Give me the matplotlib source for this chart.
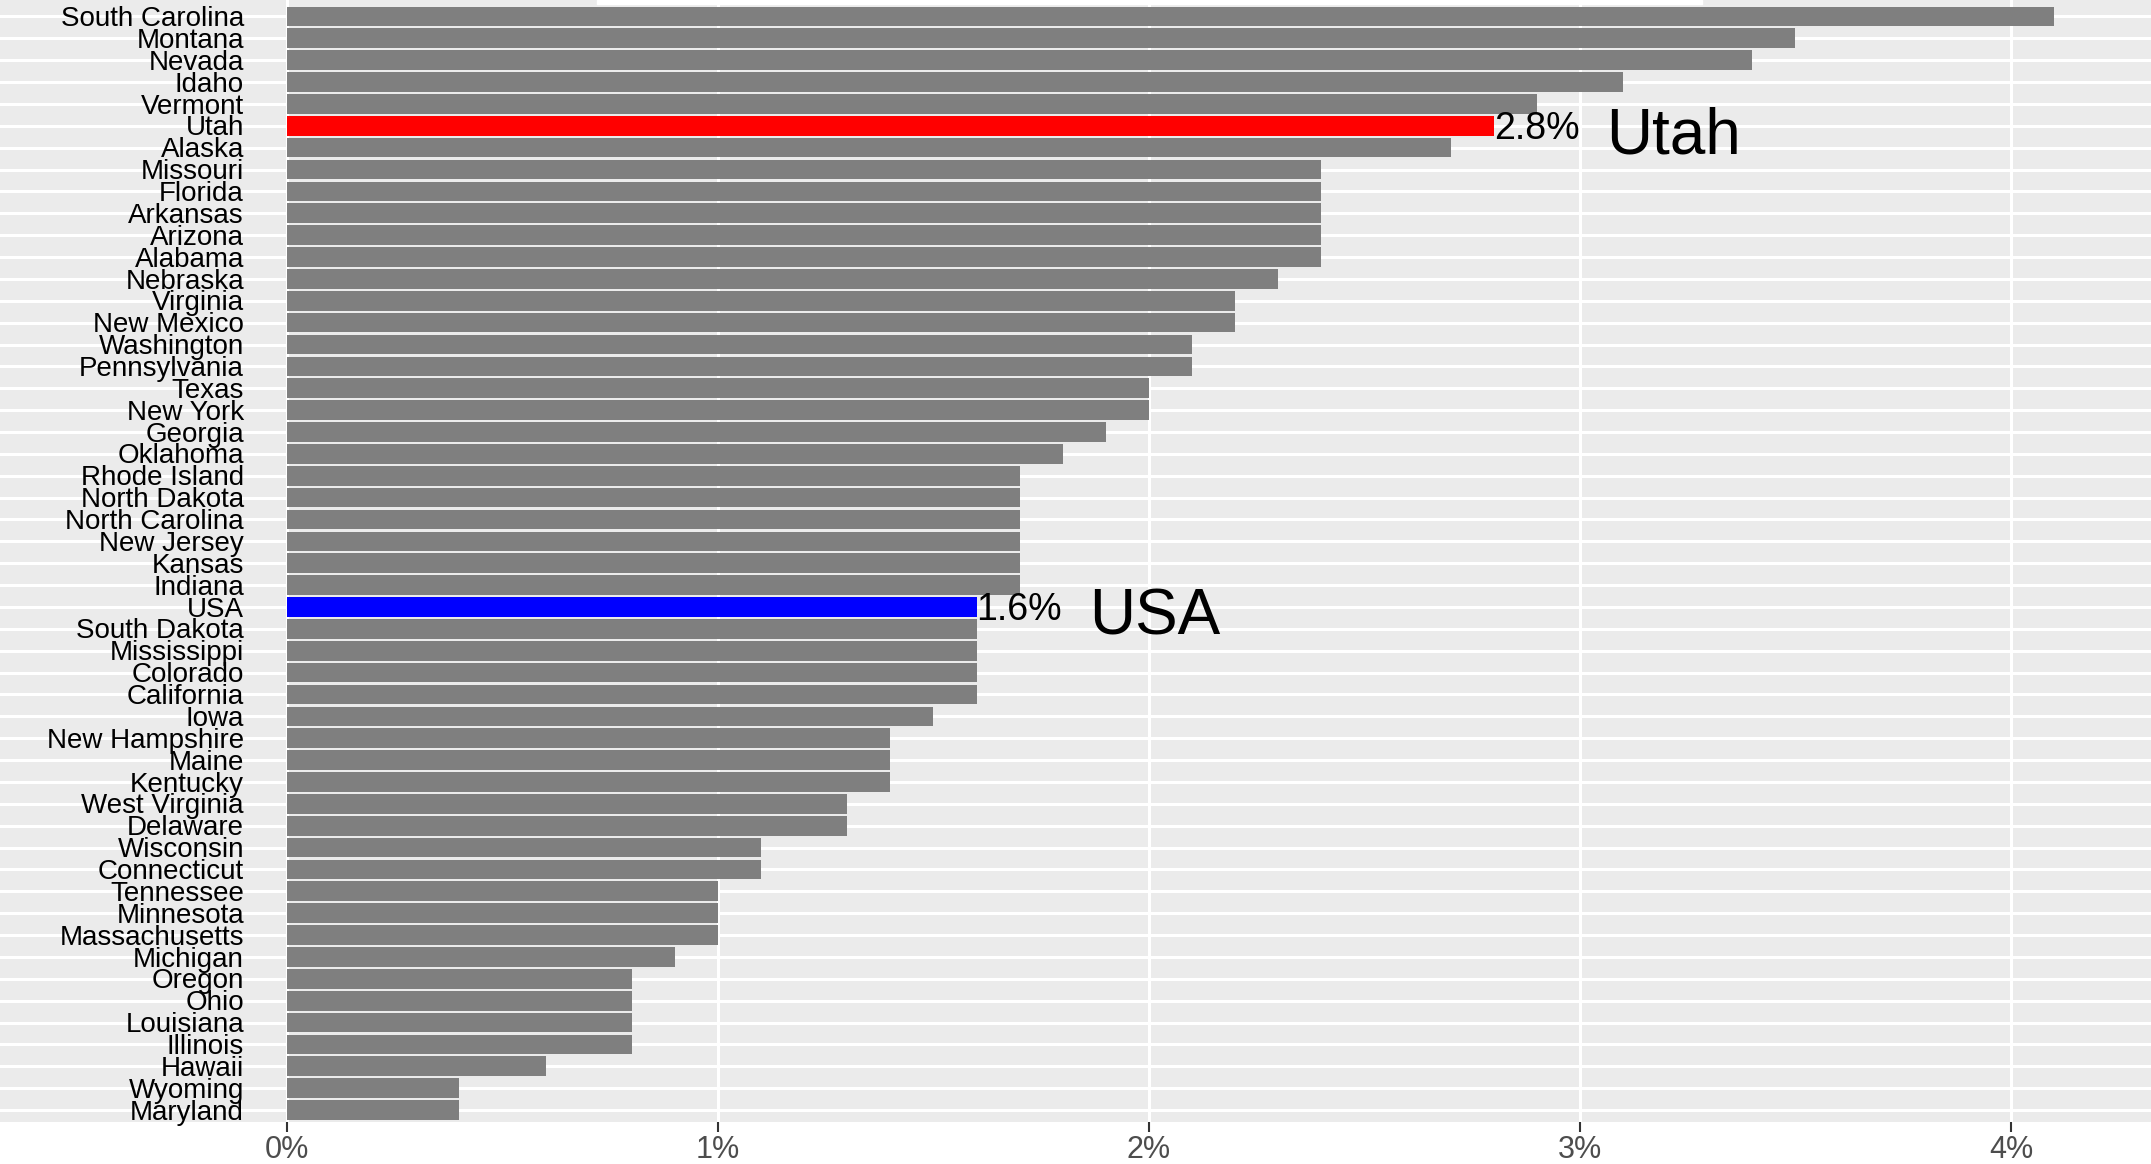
import matplotlib
matplotlib.use("Agg")
import matplotlib.pyplot as plt
from matplotlib.patches import Rectangle
from matplotlib.ticker import FuncFormatter

plt.rcParams['font.family'] = ['Liberation Sans Narrow', 'Liberation Sans', 'DejaVu Sans']

# states ordered top to bottom, values in percent
states = ['South Carolina', 'Montana', 'Nevada', 'Idaho', 'Vermont', 'Utah', 'Alaska',
          'Missouri', 'Florida', 'Arkansas', 'Arizona', 'Alabama', 'Nebraska', 'Virginia',
          'New Mexico', 'Washington', 'Pennsylvania', 'Texas', 'New York', 'Georgia',
          'Oklahoma', 'Rhode Island', 'North Dakota', 'North Carolina', 'New Jersey',
          'Kansas', 'Indiana', 'USA', 'South Dakota', 'Mississippi', 'Colorado',
          'California', 'Iowa', 'New Hampshire', 'Maine', 'Kentucky', 'West Virginia',
          'Delaware', 'Wisconsin', 'Connecticut', 'Tennessee', 'Minnesota',
          'Massachusetts', 'Michigan', 'Oregon', 'Ohio', 'Louisiana', 'Illinois',
          'Hawaii', 'Wyoming', 'Maryland']
growth = [4.1, 3.5, 3.4, 3.1, 2.9, 2.8, 2.7,
          2.4, 2.4, 2.4, 2.4, 2.4, 2.3, 2.2,
          2.2, 2.1, 2.1, 2.0, 2.0, 1.9,
          1.8, 1.7, 1.7, 1.7, 1.7,
          1.7, 1.7, 1.6, 1.6, 1.6, 1.6,
          1.6, 1.5, 1.4, 1.4, 1.4, 1.3,
          1.3, 1.1, 1.1, 1.0, 1.0,
          1.0, 0.9, 0.8, 0.8, 0.8, 0.8,
          0.6, 0.4, 0.4]
highlight = {'Utah': 'red', 'USA': 'blue'}
xticks = [0, 1, 2, 3, 4]

fig = plt.figure(figsize=(21.51, 11.64), dpi=100)
ax = fig.add_axes([0, 0.036, 1, 0.964])
ax.set_facecolor('#EBEBEB')

ypos = list(range(len(states)))
colors = [highlight.get(s, '#7F7F7F') for s in states]
ax.barh(ypos, growth, height=0.9, color=colors, zorder=2)

# horizontal gridlines at every category, vertical at the ticks
for y in ypos:
    ax.axhline(y, color='white', lw=2.2, zorder=1)
for x in xticks:
    ax.axvline(x, color='white', lw=2.2, zorder=1)

# state names drawn inside the panel
for y, s in zip(ypos, states):
    ax.text(-0.1, y + 0.12, s, ha='right', va='center', fontsize=20, color='black', zorder=3)

for name, big_x in [('Utah', 3.06), ('USA', 1.86)]:
    i = states.index(name)
    ax.text(growth[i], i + 0.15, f'{growth[i]}%', ha='left', va='center', fontsize=27,
            family=['Liberation Sans', 'DejaVu Sans'], zorder=3)
    ax.text(big_x, i + 0.5, name, ha='left', va='center', fontsize=46,
            family=['Liberation Sans', 'DejaVu Sans'], zorder=3)

ax.set_xlim(-0.666, 4.325)
ax.set_ylim(50.55, -0.75)
ax.set_xticks(xticks)
ax.xaxis.set_major_formatter(FuncFormatter(lambda v, p: f'{v:.0f}%'))
ax.set_yticks([])
ax.tick_params(axis='x', length=7, width=1.5, color='#333333', labelsize=22,
               labelcolor='#4D4D4D', pad=2)
for sp in ax.spines.values():
    sp.set_visible(False)

# thin white strip along the top edge
fig.patches.append(Rectangle((597 / 2151, 1 - 4 / 1164), (1702 - 597) / 2151, 4 / 1164,
                             transform=fig.transFigure, color='white', zorder=10))

fig.savefig('out.png', dpi=100)
